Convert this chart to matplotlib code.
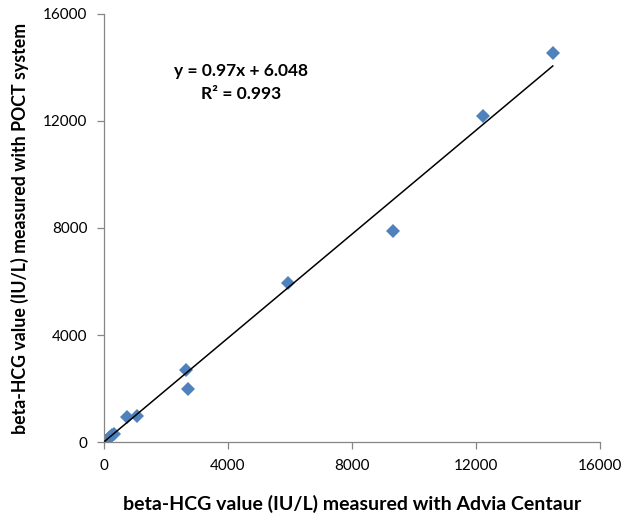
import numpy as np
import matplotlib.pyplot as plt

plt.rcParams["font.family"] = ["Lato", "DejaVu Sans"]

# Advia Centaur (x) vs POCT system (y), IU/L
advia = [30, 60, 100, 150, 200, 260, 320, 742, 1065, 2645, 2710, 5935, 9323, 12226, 14484]
poct = [20, 50, 90, 160, 190, 250, 310, 935, 972, 2692, 1981, 5944, 7888, 12187, 14542]

slope, intercept = 0.97, 6.048
ticks = [0, 4000, 8000, 12000, 16000]

fig = plt.figure(figsize=(6.3, 5.17), dpi=100)
ax = fig.add_axes([0.165, 0.145, 0.787, 0.828])

ax.plot(advia, poct, linestyle="none", marker="D", ms=7,
        color="#4F81BD", markeredgewidth=0, zorder=2)

xs = np.array([min(advia), max(advia)])
ax.plot(xs, slope * xs + intercept, color="black", lw=1.1, zorder=3)

ax.set_xlim(0, 16000)
ax.set_ylim(0, 16000)
ax.set_xticks(ticks)
ax.set_yticks(ticks)
ax.tick_params(direction="out", length=5, width=0.9, color="#868686",
               labelsize=11, pad=7)
for s in ["top", "right"]:
    ax.spines[s].set_visible(False)
for s in ["left", "bottom"]:
    ax.spines[s].set_color("#868686")
    ax.spines[s].set_linewidth(0.9)

ax.set_xlabel("beta-HCG value (IU/L) measured with Advia Centaur",
              fontsize=14, fontweight="bold", labelpad=16)
ax.set_ylabel("beta-HCG value (IU/L) measured with POCT system",
              fontsize=12.8, fontweight="bold", labelpad=10)

ax.text(0.277, 0.885, "y = 0.97x + 6.048\nR² = 0.993", transform=ax.transAxes,
        ha="center", va="top", fontsize=12.5, fontweight="bold", linespacing=1.5)

fig.savefig("out.png", dpi=100)
